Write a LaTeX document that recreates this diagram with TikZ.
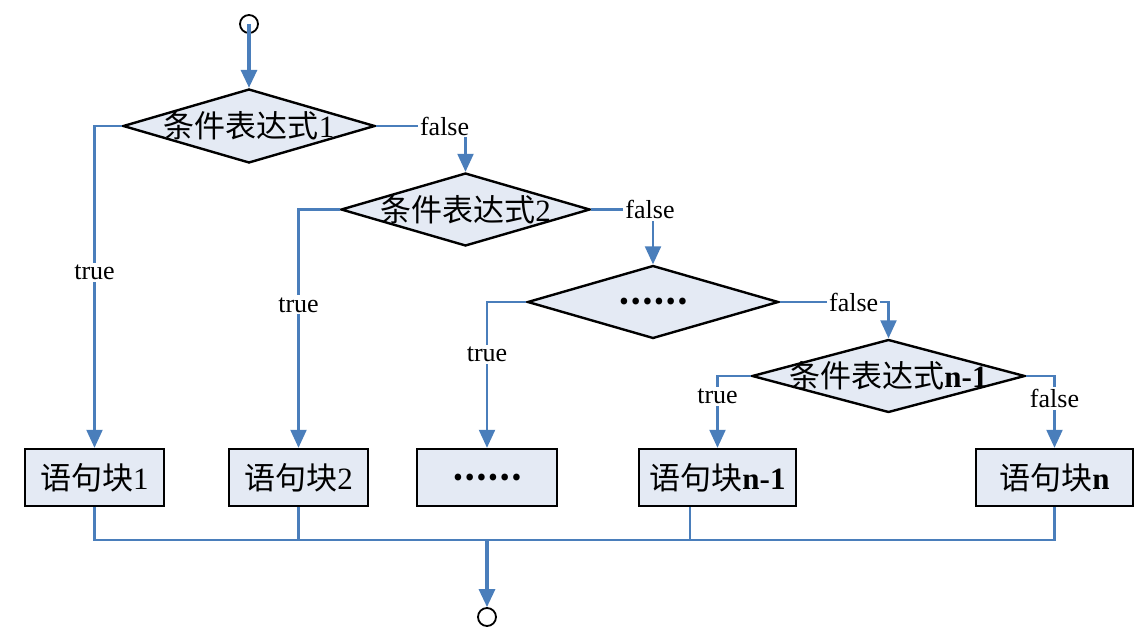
\documentclass[tikz,border=0pt]{standalone}
\usepackage{fontspec}
\usepackage{xcolor}
\usetikzlibrary{shapes.geometric, arrows.meta}
\setmainfont{Liberation Serif}
\newfontfamily\cjk{Noto Sans CJK SC}
\definecolor{flowblue}{HTML}{4A7EBB}
\definecolor{boxfill}{HTML}{E4EAF4}
\newcommand{\ctext}[1]{\makebox[0pt]{#1}}

\begin{document}
\begin{tikzpicture}[
            x = 0.5pt, y = -0.5pt, % one unit per pixel of the reference
            > = {Triangle[length=9pt,width=8pt]}, % arrow head style
            cond/.style = {diamond, draw=black, line width=1.2pt, fill=boxfill,
                inner sep=0pt, font=\fontsize{15.5}{18}\selectfont},
            block/.style = {rectangle, draw=black, line width=1.2pt, fill=boxfill,
                minimum height=28.5pt, inner sep=0pt, font=\fontsize{15.5}{18}\selectfont},
            terminal/.style = {circle, draw=black, line width=0.9pt, minimum size=9pt, inner sep=0pt},
            flow/.style = {->, draw=flowblue, line width=1.1pt},
            bigflow/.style = {->, draw=flowblue, line width=1.6pt},
            joinline/.style = {draw=flowblue, line width=1.1pt},
            lbl/.style = {fill=white, inner sep=1pt, font=\fontsize{13}{15}\selectfont}
        ]
\useasboundingbox (0,0) rectangle (1147,637);

% start and end
\node[terminal] (start) at (249,24) {};
\node[terminal] (stop) at (487,617) {};

% conditions
\node[cond, minimum width=126pt, minimum height=37pt] (d1) at (249,126) {\ctext{{\cjk 条件表达式}1}};
\node[cond, minimum width=124.5pt, minimum height=36.5pt] (d2) at (465.5,209.5) {\ctext{{\cjk 条件表达式}2}};
\node[cond, minimum width=125.5pt, minimum height=36.5pt] (d3) at (653,302) {\ctext{{\cjk\bfseries ……}}};
\node[cond, minimum width=136.5pt, minimum height=36.5pt] (d4) at (888.5,376) {\ctext{{\cjk 条件表达式}\textbf{n-1}}};

% statement blocks
\node[block, minimum width=69.5pt] (b1) at (94.5,477.5) {{\cjk 语句块}1};
\node[block, minimum width=69.5pt] (b2) at (298.5,477.5) {{\cjk 语句块}2};
\node[block, minimum width=70pt] (b3) at (487,477.5) {{\cjk\bfseries ……}};
\node[block, minimum width=78.5pt] (b4) at (717.5,477.5) {{\cjk 语句块}\textbf{n-1}};
\node[block, minimum width=78.5pt] (b5) at (1054.5,477.5) {{\cjk 语句块}\textbf{n}};

\coordinate (join) at (487,540);

\draw[bigflow] (start.center) -- (d1.north);

% false branches
\draw[flow] (d1.east) -| node[lbl, pos=0.383] {false} (d2.north);
\draw[flow] (d2.east) -| node[lbl, pos=0.476] {false} (d3.north);
\draw[flow] (d3.east) -| node[lbl, pos=0.34] {false} (d4.north);
\draw[flow] (d4.east) -| node[lbl, pos=0.657] {false} (b5.north);

% true branches
\draw[flow] (d1.west) -| node[lbl, pos=0.728] {true} (b1.north);
\draw[flow] (d2.west) -| node[lbl, pos=0.70] {true} (b2.north);
\draw[flow] (d3.west) -| node[lbl, pos=0.68] {true} (b3.north);
\draw[flow] (d4.west) -| node[lbl, pos=0.644] {true} (b4.north);

% merge
\draw[joinline] (b1.south) |- (join);
\draw[joinline] (b2.south) |- (join);
\draw[joinline] ([xshift=-13.75pt]b4.south) |- (join);
\draw[joinline] (b5.south) |- (join);
\draw[bigflow] (join) -- (stop.north);

\end{tikzpicture}
\end{document}
